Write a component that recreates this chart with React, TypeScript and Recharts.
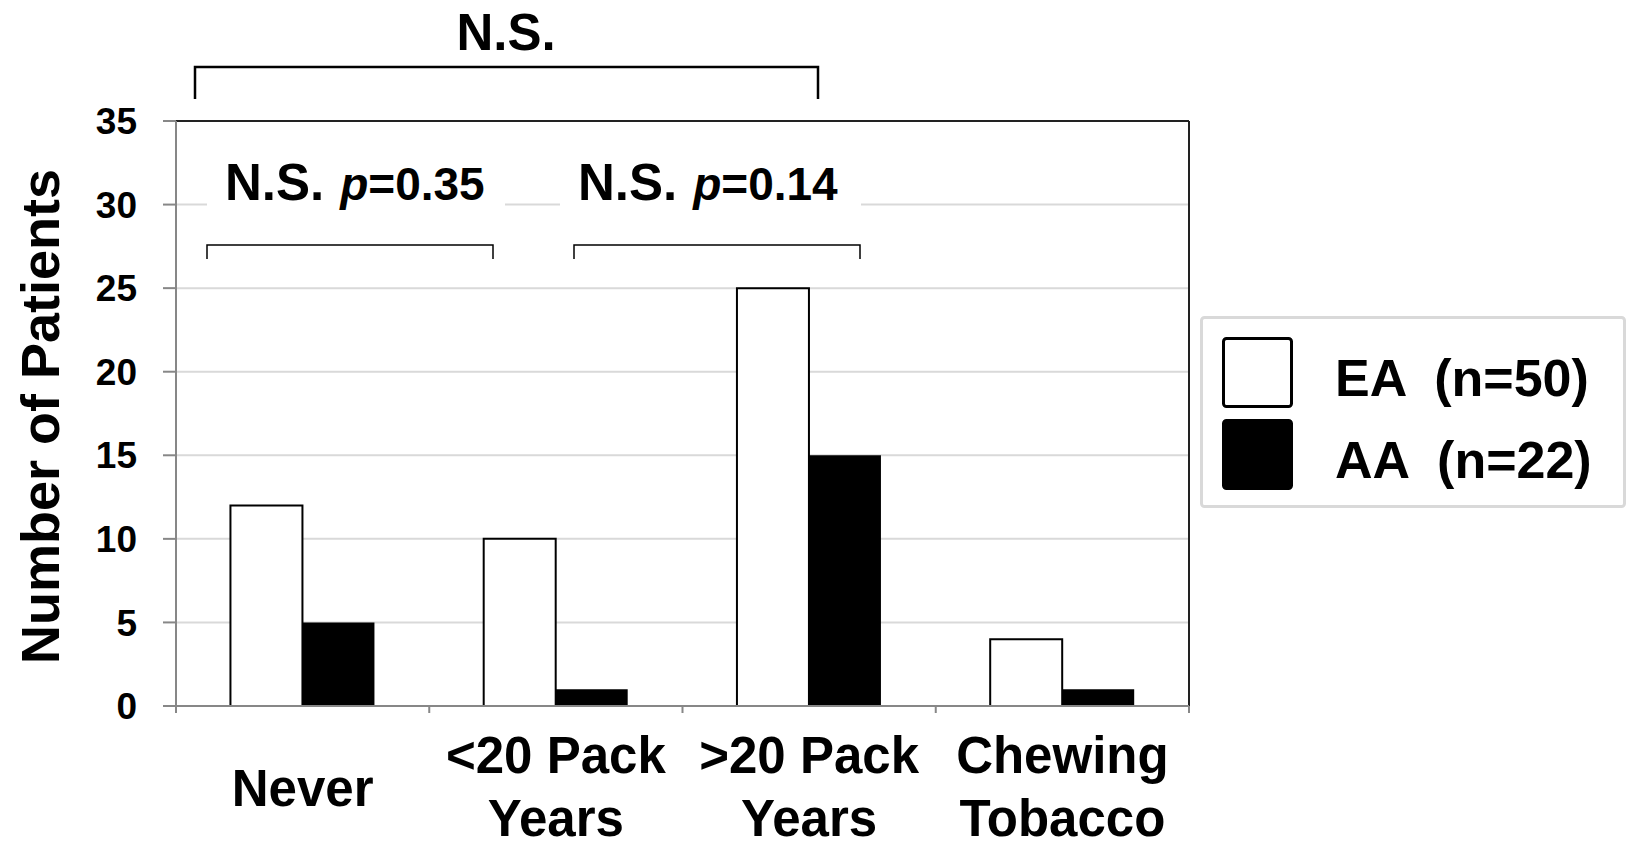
import {
  BarChart,
  Bar,
  XAxis,
  YAxis,
  CartesianGrid,
  Legend,
  ReferenceLine,
  Customized,
} from "recharts";

const categories = ["Never", "<20 Pack Years", ">20 Pack Years", "Chewing Tobacco"];
const categoryLines = [["Never"], ["<20 Pack", "Years"], [">20 Pack", "Years"], ["Chewing", "Tobacco"]];
const eaCounts = [12, 10, 25, 4];
const aaCounts = [5, 1, 15, 1];
const seriesNames = ["EA  (n=50)", "AA  (n=22)"];
const yTicks = [0, 5, 10, 15, 20, 25, 30, 35];

const data = categories.map((name, i) => ({ name, ea: eaCounts[i], aa: aaCounts[i] }));

const FONT = '"Liberation Sans", Arial, sans-serif';
const AXIS_GRAY = "#878787";

// category labels (one or two lines) plus tick marks on the band edges
function CategoryTick(props: any) {
  const { x, y, index, payload, visibleTicksCount } = props;
  const lines = categoryLines[index] ?? [payload.value];
  const offsets = lines.length === 1 ? [100] : [67, 130];
  const half = payload.offset ?? 1013 / (2 * (visibleTicksCount || 4));
  const isLast = index === (visibleTicksCount ?? categories.length) - 1;
  return (
    <g>
      <line x1={x - half} x2={x - half} y1={y} y2={y + 7} stroke={AXIS_GRAY} strokeWidth={2} />
      {isLast && <line x1={x + half} x2={x + half} y1={y} y2={y + 7} stroke={AXIS_GRAY} strokeWidth={2} />}
      {lines.map((line: string, i: number) => (
        <text
          key={i}
          x={x}
          y={y + offsets[i]}
          textAnchor="middle"
          fontSize={51}
          fontWeight="bold"
          fontFamily={FONT}
          fill="#000"
        >
          {line}
        </text>
      ))}
    </g>
  );
}

function YLabel(props: any) {
  const vb = props.viewBox;
  const cx = vb.x + 59;
  const cy = vb.y + vb.height / 2 + 3;
  return (
    <text
      transform={`translate(${cx} ${cy}) rotate(-90)`}
      textAnchor="middle"
      fontSize={54}
      fontWeight="bold"
      fontFamily={FONT}
      fill="#000"
    >
      Number of Patients
    </text>
  );
}

function LegendBox(props: any) {
  const payload = [...(props.payload ?? [])].sort(
    (a: any, b: any) => seriesNames.indexOf(a.value) - seriesNames.indexOf(b.value)
  );
  return (
    <svg width={426} height={192} style={{ display: "block" }}>
      <rect x={1.5} y={1.5} width={423} height={189} fill="#fff" stroke="#d9d9d9" strokeWidth={3} rx={3} />
      {payload.map((entry: any, i: number) => (
        <g key={i}>
          <rect
            x={23.5}
            y={22.5 + i * 82}
            width={68}
            height={68}
            rx={3}
            fill={entry.color}
            stroke="#000"
            strokeWidth={3}
          />
          <text
            x={135}
            y={80 + i * 82}
            fontSize={52}
            fontWeight="bold"
            fontFamily={FONT}
            fill="#000"
            style={{ whiteSpace: "pre" }}
          >
            {entry.value}
          </text>
        </g>
      ))}
    </svg>
  );
}

function Annotations() {
  const txt = { fontFamily: FONT, fontWeight: "bold" as const, fill: "#000" };
  return (
    <g>
      {/* overall comparison */}
      <path d="M195 99 L195 67 L818 67 L818 99" fill="none" stroke="#000" strokeWidth={2.5} />
      <text x={506} y={50} textAnchor="middle" fontSize={51} {...txt}>
        N.S.
      </text>

      {/* pairwise comparisons */}
      <rect x={207} y={150} width={298} height={62} fill="#fff" />
      <rect x={560} y={150} width={301} height={62} fill="#fff" />
      <text x={225} y={200} {...txt}>
        <tspan fontSize={51}>N.S.</tspan>
        <tspan fontSize={46} fontStyle="italic" dx={16}>p</tspan>
        <tspan fontSize={46}>=0.35</tspan>
      </text>
      <text x={578} y={200} {...txt}>
        <tspan fontSize={51}>N.S.</tspan>
        <tspan fontSize={46} fontStyle="italic" dx={16}>p</tspan>
        <tspan fontSize={46}>=0.14</tspan>
      </text>
      <path d="M207 259 L207 245 L493 245 L493 259" fill="none" stroke="#000" strokeWidth={1.5} />
      <path d="M574 259 L574 245 L860 245 L860 259" fill="none" stroke="#000" strokeWidth={1.5} />
    </g>
  );
}

export default function App() {
  return (
    <div style={{ position: "absolute", left: 0, top: 0, width: 1626, height: 847, background: "#fff" }}>
      <BarChart
        width={1626}
        height={847}
        data={data}
        margin={{ top: 121, right: 437, bottom: 0, left: 0 }}
        barCategoryGap="21.5%"
        barGap={0}
      >
        <CartesianGrid vertical={false} stroke="#d9d9d9" strokeWidth={2} />
        {/* right border of the plot frame */}
        <CartesianGrid
          horizontal={false}
          stroke="#222"
          strokeWidth={2}
          verticalCoordinatesGenerator={(p: any) => [p.offset.left + p.offset.width]}
        />
        <XAxis
          dataKey="name"
          interval={0}
          tickLine={false}
          tickSize={0}
          tickMargin={0}
          height={141}
          stroke={AXIS_GRAY}
          strokeWidth={2}
          tick={<CategoryTick />}
        />
        <YAxis
          domain={[0, 35]}
          ticks={yTicks}
          interval={0}
          width={176}
          tickSize={13}
          tickMargin={26}
          stroke={AXIS_GRAY}
          strokeWidth={2}
          tick={{ fontSize: 37, fontWeight: "bold", fill: "#000", fontFamily: FONT }}
          label={{ value: "Number of Patients", content: YLabel }}
        />
        <ReferenceLine y={35} stroke="#222" strokeWidth={2} />
        <Bar
          dataKey="ea"
          name={seriesNames[0]}
          fill="#ffffff"
          stroke="#000"
          strokeWidth={2}
          isAnimationActive={false}
        />
        <Bar dataKey="aa" name={seriesNames[1]} fill="#000000" isAnimationActive={false} />
        <Legend
          layout="horizontal"
          align="center"
          verticalAlign="middle"
          wrapperStyle={{ left: 1200, top: 316, width: 426, height: 192 }}
          content={LegendBox}
        />
        <Customized component={<Annotations />} />
      </BarChart>
    </div>
  );
}
